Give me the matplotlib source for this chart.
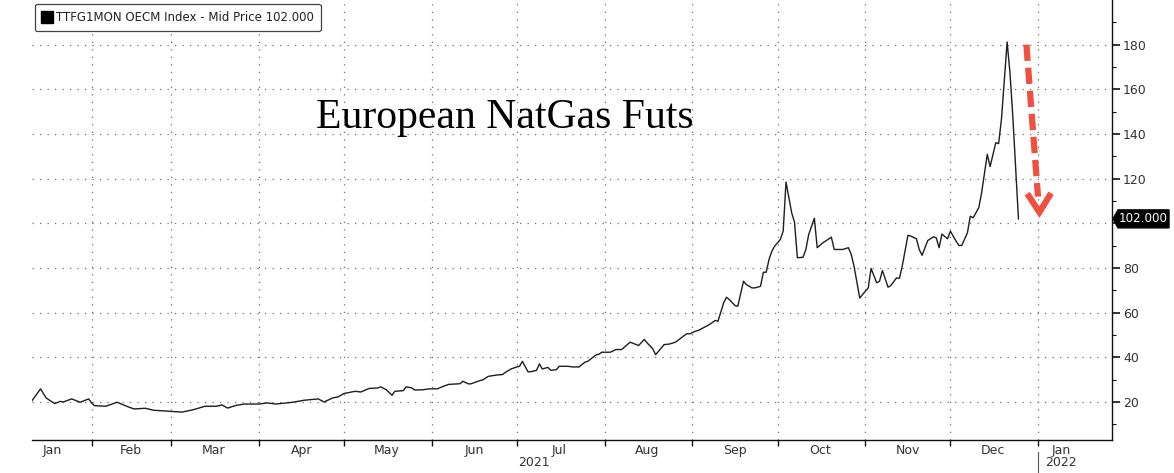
import numpy as np
import matplotlib
matplotlib.use('Agg')
import matplotlib.pyplot as plt
import matplotlib.dates as mdates
import matplotlib.transforms as mtrans
from matplotlib.patches import Polygon
from matplotlib.lines import Line2D

# ---------------- data ----------------
BASE_DATE = '2021-01-01'
day_offsets = [10, 13, 15, 18, 20, 21, 24, 27, 30, 31, 32, 36, 40, 44, 46, 50, 53, 57, 59, 63,
               67, 71, 75, 77, 79, 82, 85, 90, 93, 96, 102, 106, 111, 113, 116, 118, 120, 124, 126, 129,
               132, 133, 135, 137, 138, 141, 142, 144, 145, 148, 150, 153, 155, 157, 161, 162, 164, 165, 168, 169,
               171, 174, 176, 177, 179, 181, 182, 183, 185, 186, 188, 189, 190, 192, 193, 195, 196, 199, 201, 203,
               205, 206, 209, 210, 211, 214, 216, 218, 221, 224, 226, 227, 229, 230, 233, 235, 237, 241, 242, 244,
               245, 249, 251, 252, 254, 255, 256, 258, 259, 261, 262, 264, 265, 267, 268, 269, 270, 271, 272, 274,
               275, 276, 278, 279, 280, 282, 283, 284, 286, 287, 289, 292, 293, 296, 298, 299, 300, 302, 303, 305,
               306, 308, 309, 310, 312, 313, 315, 316, 317, 319, 320, 322, 323, 324, 326, 328, 329, 330, 331, 333,
               334, 336, 337, 338, 340, 341, 342, 344, 345, 347, 348, 350, 351, 352, 354, 355, 356, 358]
prices = [20.6, 25.9, 21.8, 19.3, 20.3, 20.0, 21.4, 19.9, 21.4, 19.6, 18.4, 18.1, 19.9, 17.8, 16.9, 17.2, 16.3, 16.0, 15.8, 15.5,
          16.6, 18.1, 18.1, 18.7, 17.3, 18.5, 19.1, 19.1, 19.6, 19.1, 19.9, 20.8, 21.4, 20.0, 21.8, 22.3, 23.8, 24.8, 24.5, 26.1,
          26.3, 26.8, 25.5, 23.0, 24.8, 25.1, 26.8, 26.3, 25.4, 25.5, 25.9, 25.9, 27.0, 27.9, 28.2, 29.3, 28.1, 28.2, 29.6, 29.9,
          31.5, 32.1, 32.3, 33.3, 34.8, 35.7, 36.0, 38.2, 33.5, 33.6, 34.2, 37.1, 34.8, 35.5, 34.2, 34.5, 36.0, 36.0, 35.7, 35.7,
          37.8, 38.2, 41.1, 41.4, 42.3, 42.3, 43.5, 43.5, 46.8, 45.3, 48.0, 46.5, 43.8, 41.2, 45.7, 46.0, 46.8, 50.6, 50.5, 51.7,
          52.0, 54.7, 56.5, 56.2, 64.4, 66.9, 65.9, 63.2, 62.9, 74.1, 72.6, 71.1, 71.1, 71.8, 78.1, 78.1, 83.8, 87.5, 89.8, 92.8,
          96.5, 118.5, 104.7, 100.5, 84.6, 84.8, 88.3, 95.0, 102.3, 89.1, 91.3, 93.8, 88.3, 88.3, 89.1, 86.1, 80.8, 66.6, 68.1, 71.1,
          79.8, 73.4, 74.1, 78.9, 71.4, 72.2, 75.6, 75.4, 80.8, 94.6, 94.3, 93.1, 88.3, 85.7, 92.3, 94.0, 93.5, 89.1, 95.2, 93.1,
          96.5, 92.0, 90.1, 90.1, 95.8, 103.2, 102.5, 107.0, 113.7, 130.9, 125.4, 136.1, 135.7, 146.6, 181.2, 167.5, 148.1, 102.0]

legend_label = 'TTFG1MON OECM Index - Mid Price 102.000'
last_label = '102.000'
title_text = 'European NatGas Futs'

month_names = ['Jan', 'Feb', 'Mar', 'Apr', 'May', 'Jun', 'Jul', 'Aug', 'Sep', 'Oct', 'Nov', 'Dec', 'Jan']
month_label_dates = ['2021-01-18', '2021-02-15', '2021-03-16', '2021-04-16', '2021-05-16', '2021-06-16',
                     '2021-07-16', '2021-08-16', '2021-09-16', '2021-10-16', '2021-11-16', '2021-12-16', '2022-01-09']
month_start_dates = ['2021-02-01', '2021-03-01', '2021-04-01', '2021-05-01', '2021-06-01', '2021-07-01',
                     '2021-08-01', '2021-09-01', '2021-10-01', '2021-11-01', '2021-12-01', '2022-01-01']
year_names = ['2021', '2022']
year_label_dates = ['2021-07-07', '2022-01-09']
year_break_date = '2022-01-01'
x_limits = ['2021-01-11', '2022-01-27']
y_ticks = [20, 40, 60, 80, 100, 120, 140, 160, 180]
y_tick_labels = ['20', '40', '60', '80', '', '120', '140', '160', '180']
y_minor = [10, 30, 50, 70, 90, 110, 130, 150, 170, 190]


def dnum(s):
    return mdates.date2num(np.datetime64(s))


base = dnum(BASE_DATE)
x = base + np.array(day_offsets, dtype=float)
y = np.array(prices)

W, H = 1174, 473
fig = plt.figure(figsize=(W / 100, H / 100), dpi=100)
fig.patch.set_facecolor('white')
ax = fig.add_axes([32 / W, 33 / H, 1080 / W, 440 / H])

ax.plot(x, y, color='#1e1e1e', lw=1.0, solid_joinstyle='round', zorder=3)

ax.set_xlim(dnum(x_limits[0]), dnum(x_limits[1]))
ax.set_ylim(3, 200)

for s in ['top', 'left']:
    ax.spines[s].set_visible(False)
for s in ['right', 'bottom']:
    ax.spines[s].set_color('#111')
    ax.spines[s].set_linewidth(1.0)

# x ticks
ax.set_xticks([dnum(d) for d in month_start_dates])
ax.set_xticklabels([])
ax.set_xticks([dnum(d) for d in month_label_dates], minor=True)
ax.set_xticklabels(month_names, minor=True)
ax.tick_params(axis='x', which='major', direction='out', length=4, width=1, color='#111')
ax.tick_params(axis='x', which='minor', length=0, pad=3, labelsize=9, labelcolor='#333')

# y ticks on right
ax.yaxis.tick_right()
ax.set_yticks(y_ticks)
ax.set_yticklabels(y_tick_labels)
ax.set_yticks(y_minor, minor=True)
ax.tick_params(axis='y', which='major', direction='out', length=6, width=1.2, color='#111',
               pad=2, labelsize=9, labelcolor='#333')
ax.tick_params(axis='y', which='minor', direction='out', length=3, width=0.8, color='#111')

ax.grid(True, which='major', linestyle=(0, (1.0, 5.0)), color='#707070', linewidth=0.9)

blend = mtrans.blended_transform_factory(ax.transData, ax.transAxes)
for name, d in zip(year_names, year_label_dates):
    ax.text(dnum(d), -0.052, name, transform=blend, ha='center', va='center',
            fontsize=9, color='#333', clip_on=False)
ax.add_line(Line2D([dnum(year_break_date)] * 2, [-0.027, -0.08], transform=blend,
                   color='#555', lw=0.8, clip_on=False))

# legend
h = Line2D([], [], marker='s', color='black', ls='none', markersize=8.5)
leg = ax.legend([h], [legend_label], loc='upper left', bbox_to_anchor=(0.0028, 0.991),
                borderaxespad=0, fancybox=True, framealpha=1, edgecolor='#444',
                handlelength=0.8, handletextpad=0.35, borderpad=0.6,
                prop={'family': 'DejaVu Sans', 'size': 8.5})
leg.get_frame().set_linewidth(0.9)
for t in leg.get_texts():
    t.set_color('#222')

# title
fig.text(505 / W, 1 - 128 / H, title_text, family='Liberation Serif', fontsize=30,
         ha='center', va='baseline', color='black')

# red dashed arrow (annotation)
red = '#f0503f'
arrow_top = (base + 360.8, 180.0)
arrow_tip = (base + 365.4, 105.0)
ax.plot([arrow_top[0], base + 364.9], [arrow_top[1], 112.0], color=red, lw=4.5,
        linestyle=(0, (2.6, 1.1)), dash_capstyle='butt', zorder=4, clip_on=False)
ax.plot([base + 361.1, arrow_tip[0], base + 369.5], [113.3, arrow_tip[1], 113.5], color=red,
        lw=4.5, solid_joinstyle='miter', solid_capstyle='butt', zorder=4)

# last value label
ident = mtrans.IdentityTransform()
fig.canvas.draw()
yd = ax.transData.transform((x[-1], y[-1]))[1]
xr = ax.transAxes.transform((1.0, 0))[0]
poly = Polygon([(xr + 1, yd), (xr + 6, yd - 9), (xr + 57, yd - 9), (xr + 57, yd + 9), (xr + 6, yd + 9)],
               closed=True, facecolor='black', edgecolor='black', transform=ident, zorder=5)
fig.add_artist(poly)
fig.text(xr + 31, yd, last_label, transform=ident, color='white', fontsize=8.6,
         ha='center', va='center', zorder=6)

fig.savefig('out.png', dpi=100, facecolor='white')
